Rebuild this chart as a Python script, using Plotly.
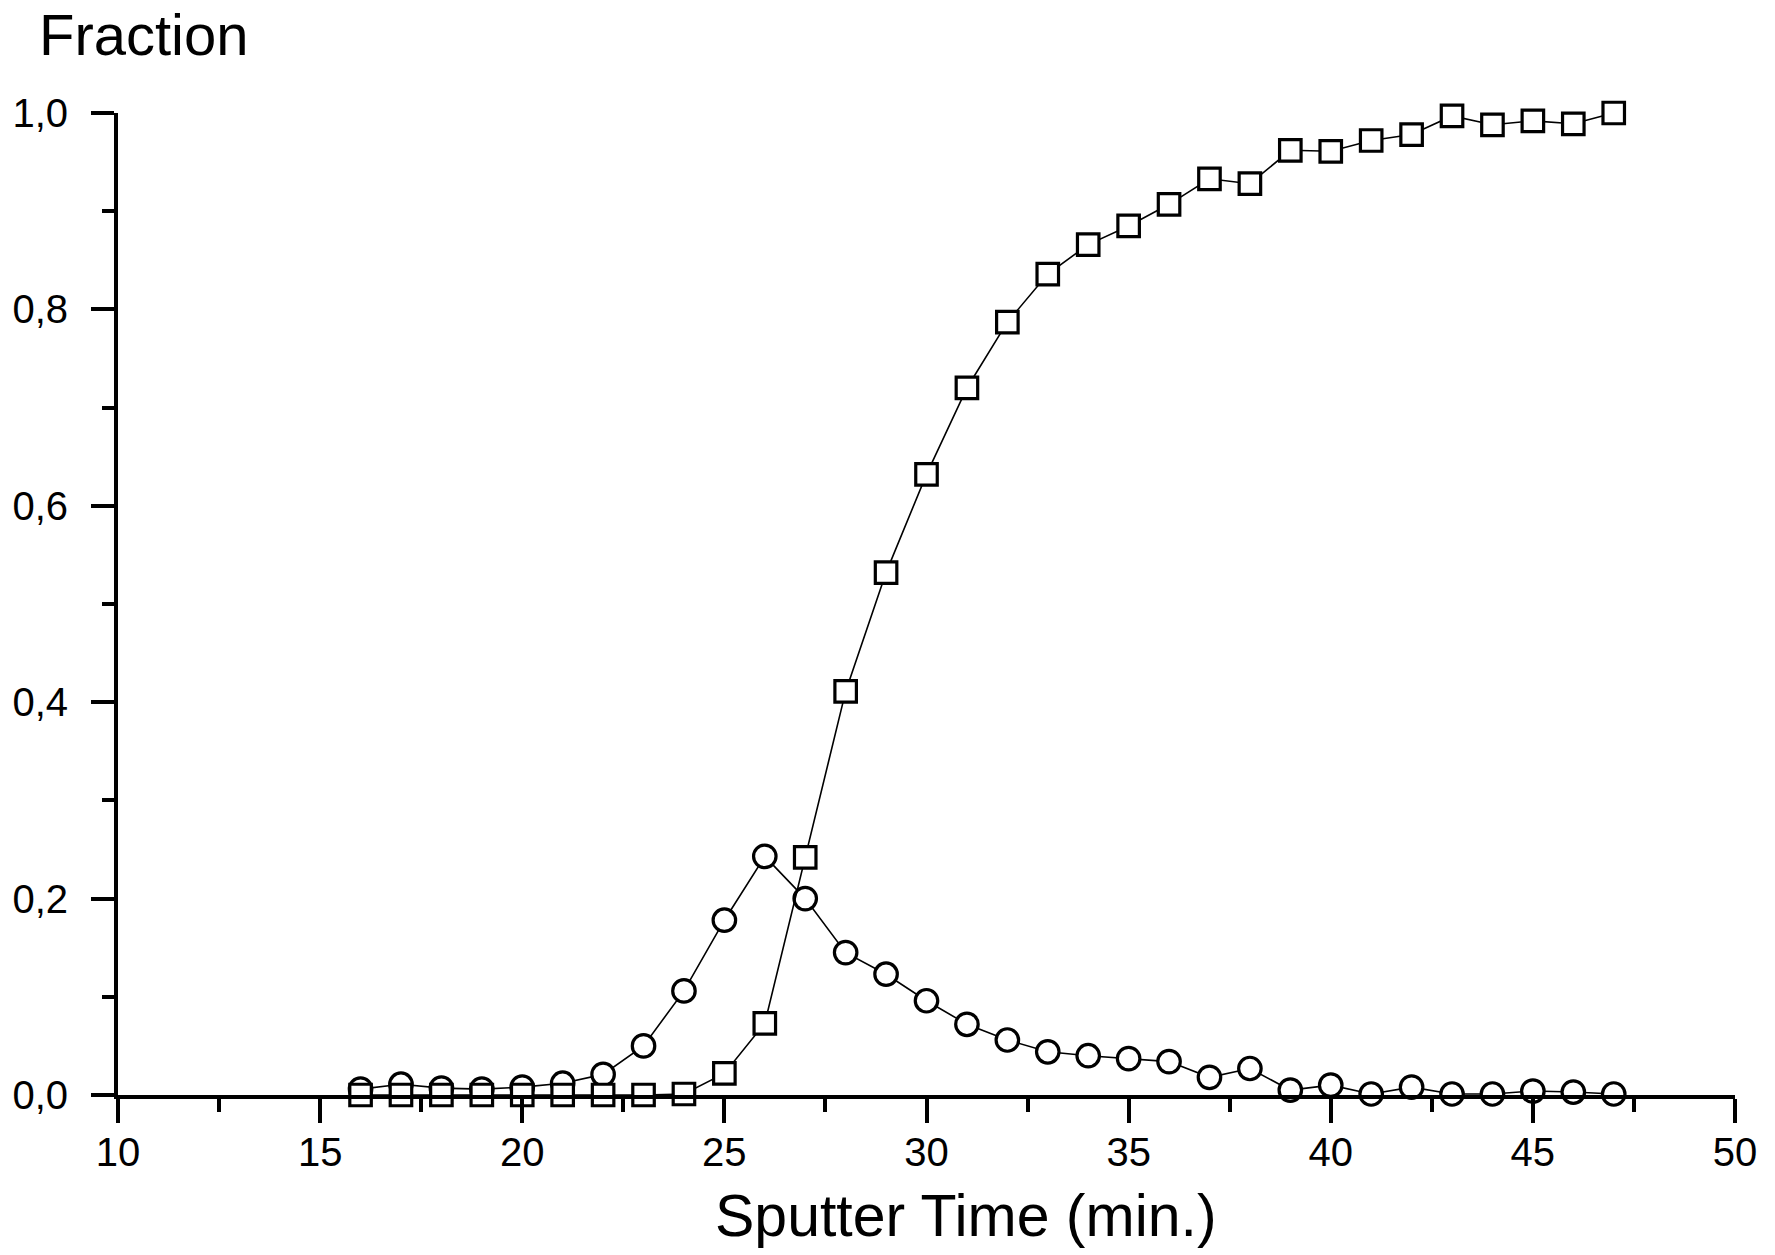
import plotly.graph_objects as go

time_min = list(range(16, 48))
square_fraction = [0.0, 0.0, 0.0, 0.0, 0.0, 0.0, 0.0, 0.0, 0.001, 0.022,
                   0.073, 0.242, 0.411, 0.532, 0.632, 0.720, 0.787, 0.836, 0.866, 0.885,
                   0.907, 0.933, 0.928, 0.962, 0.961, 0.972, 0.978, 0.997, 0.988, 0.992,
                   0.989, 1.000]
circle_fraction = [0.006, 0.011, 0.007, 0.006, 0.008, 0.012, 0.021, 0.050, 0.106, 0.178,
                   0.243, 0.200, 0.145, 0.123, 0.096, 0.072, 0.056, 0.044, 0.040, 0.037,
                   0.034, 0.018, 0.027, 0.005, 0.010, 0.001, 0.008, 0.001, 0.001, 0.004,
                   0.003, 0.001]

x_ticks = [10, 15, 20, 25, 30, 35, 40, 45, 50]
y_ticks = [0.0, 0.2, 0.4, 0.6, 0.8, 1.0]
y_tick_text = ["0,0", "0,2", "0,4", "0,6", "0,8", "1,0"]

FONT = "Liberation Sans, Arial, sans-serif"

fig = go.Figure()
fig.add_trace(go.Scatter(
    x=time_min, y=circle_fraction, mode="lines+markers",
    line=dict(color="black", width=1.6),
    marker=dict(symbol="circle", size=22.5, color="white", line=dict(color="black", width=3.2)),
    cliponaxis=False, showlegend=False))
fig.add_trace(go.Scatter(
    x=time_min, y=square_fraction, mode="lines+markers",
    line=dict(color="black", width=1.6),
    marker=dict(symbol="square", size=21.5, color="white", line=dict(color="black", width=3.2)),
    cliponaxis=False, showlegend=False))

fig.update_layout(
    width=1775, height=1255,
    margin=dict(l=110, r=40, t=113, b=160),
    plot_bgcolor="white", paper_bgcolor="white",
    font=dict(family=FONT, color="black"),
    xaxis=dict(range=[10, 50], tickvals=x_ticks, ticks="outside", ticklen=24, tickwidth=3.5,
               tickcolor="black", showline=True, linecolor="black", linewidth=4,
               showgrid=False, zeroline=False, tickfont=dict(size=40, family=FONT),
               ticklabelstandoff=-5,
               minor=dict(dtick=2.5, tick0=10, ticks="outside", ticklen=13, tickwidth=3.5,
                          tickcolor="black", showgrid=False)),
    yaxis=dict(range=[0, 1.0], tickvals=y_ticks, ticktext=y_tick_text, ticks="outside",
               ticklen=23, tickwidth=3.5, tickcolor="black", showline=True, linecolor="black",
               linewidth=4, showgrid=False, zeroline=False,
               tickfont=dict(size=40, family=FONT), ticklabelstandoff=15,
               minor=dict(dtick=0.1, tick0=0, ticks="outside", ticklen=12, tickwidth=3.5,
                          tickcolor="black", showgrid=False)),
    annotations=[
        dict(text="Fraction", xref="paper", yref="paper", x=-0.0498, y=1.1151,
             xanchor="left", yanchor="top", showarrow=False,
             font=dict(size=58, family=FONT, color="black")),
        dict(text="Sputter Time (min.)", xref="paper", yref="paper", x=0.5243, y=-0.0876,
             xanchor="center", yanchor="top", showarrow=False,
             font=dict(size=59, family=FONT, color="black")),
    ],
)

fig.write_html("out.html")
